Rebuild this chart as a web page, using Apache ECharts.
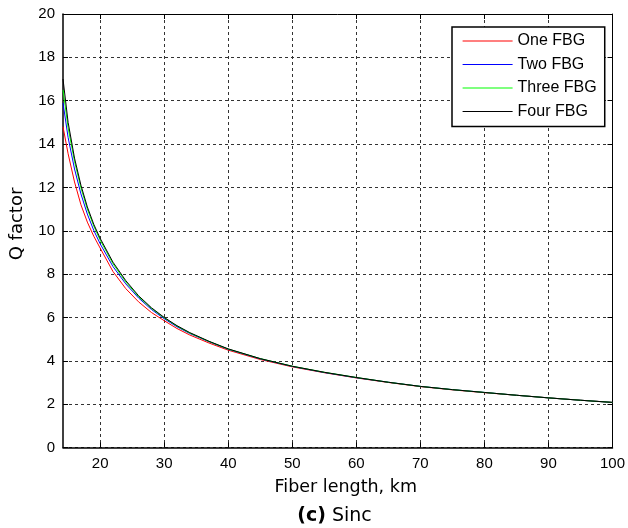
<!DOCTYPE html>
<html>
<head>
<meta charset="utf-8">
<script src="https://cdn.jsdelivr.net/npm/echarts@6/dist/echarts.min.js"></script>
<style>
  html, body { margin: 0; padding: 0; background: #fff; }
  #chart { width: 628px; height: 528px; }
</style>
</head>
<body>
<div id="chart"></div>
<script>
// fiber length, km
const lengths = [14.2, 15, 16, 17, 18, 19, 20, 22, 24, 26, 28, 30, 32, 34, 37, 40, 45, 50, 55, 60, 65, 70, 75, 80, 85, 90, 95, 100]
// Q factor per number of FBGs
const qOne = [14.8, 13.55, 12.25, 11.2, 10.4, 9.75, 9.2, 8.12, 7.33, 6.72, 6.23, 5.85, 5.49, 5.19, 4.82, 4.49, 4.06, 3.72, 3.45, 3.21, 3.0, 2.81, 2.66, 2.53, 2.41, 2.29, 2.18, 2.08]
const qTwo = [15.9, 14.3, 12.85, 11.7, 10.77, 10.02, 9.4, 8.35, 7.55, 6.9, 6.37, 5.94, 5.57, 5.26, 4.88, 4.53, 4.09, 3.74, 3.46, 3.22, 3.01, 2.82, 2.67, 2.54, 2.41, 2.29, 2.18, 2.08]
const qThree = [16.5, 14.75, 13.2, 11.98, 11.0, 10.22, 9.57, 8.48, 7.64, 6.96, 6.42, 5.98, 5.6, 5.28, 4.89, 4.54, 4.1, 3.75, 3.47, 3.23, 3.01, 2.82, 2.67, 2.54, 2.41, 2.29, 2.18, 2.08]
const qFour = [17.0, 15.0, 13.35, 12.1, 11.1, 10.3, 9.65, 8.55, 7.7, 7.0, 6.45, 6.0, 5.62, 5.3, 4.9, 4.55, 4.1, 3.75, 3.47, 3.23, 3.01, 2.82, 2.67, 2.54, 2.41, 2.29, 2.18, 2.08]

const seriesNames = ['One FBG', 'Two FBG', 'Three FBG', 'Four FBG']
const seriesColors = ['#ff0000', '#0000ff', '#00ff00', '#000000']
const xTicks = [20, 30, 40, 50, 60, 70, 80, 90, 100]

const xMin = 14.2
const xMax = 100

const chart = echarts.init(document.getElementById('chart'))

const pairs = ys => lengths.map((x, i) => [x, ys[i]])
const allData = [qOne, qTwo, qThree, qFour]

const series = allData.map((ys, i) => ({
  name: seriesNames[i],
  type: 'line',
  xAxisIndex: 0,
  yAxisIndex: 0,
  data: pairs(ys),
  symbol: 'none',
  smooth: false,
  lineStyle: { color: seriesColors[i], width: 1 },
  itemStyle: { color: seriesColors[i] },
  animation: false
}))

const labelFont = { fontFamily: 'Liberation Sans', fontSize: 15, color: '#000' }

const option = {
  animation: false,
  backgroundColor: '#fff',
  grid: { left: 63, top: 14, right: 14.5, bottom: 80.5, show: false },
  legend: {
    orient: 'vertical',
    left: 452,
    top: 27,
    padding: [6, 8, 7, 10],
    itemWidth: 50,
    itemHeight: 14,
    itemGap: 7.5,
    backgroundColor: '#fff',
    borderColor: '#000',
    borderWidth: 1.5,
    borderRadius: 0,
    itemStyle: { opacity: 0 },
    lineStyle: { width: 1.2 },
    textStyle: { fontFamily: 'Liberation Sans', fontSize: 16, color: '#000' },
    data: seriesNames
  },
  xAxis: [
    {
      type: 'value',
      min: xMin,
      max: xMax,
      position: 'bottom',
      name: 'Fiber length, km',
      nameLocation: 'middle',
      nameGap: 31,
      nameTextStyle: { fontFamily: 'DejaVu Sans', fontSize: 17.5, color: '#000', padding: [0, 0, 0, 16] },
      axisLine: { show: true, onZero: false, lineStyle: { color: '#000', width: 1.5 } },
      axisTick: { show: true, inside: true, length: 5, customValues: xTicks, lineStyle: { color: '#000' } },
      axisLabel: Object.assign({ margin: 9, customValues: xTicks }, labelFont),
      splitLine: { show: true, lineStyle: { color: '#333', width: 1, type: [3, 3] } }
    },
    {
      type: 'value',
      min: xMin,
      max: xMax,
      position: 'top',
      axisLine: { show: true, onZero: false, lineStyle: { color: '#000', width: 1 } },
      axisTick: { show: true, inside: true, length: 5, customValues: xTicks, lineStyle: { color: '#000' } },
      axisLabel: { show: false },
      splitLine: { show: false }
    }
  ],
  yAxis: [
    {
      type: 'value',
      min: 0,
      max: 20,
      interval: 2,
      position: 'left',
      axisLine: { show: true, onZero: false, lineStyle: { color: '#000', width: 1.5 } },
      axisTick: { show: true, inside: true, length: 5, lineStyle: { color: '#000' } },
      axisLabel: Object.assign({ margin: 8 }, labelFont),
      splitLine: { show: true, lineStyle: { color: '#333', width: 1, type: [3, 3] } }
    },
    {
      type: 'value',
      min: 0,
      max: 20,
      interval: 2,
      position: 'right',
      axisLine: { show: true, onZero: false, lineStyle: { color: '#000', width: 1 } },
      axisTick: { show: true, inside: true, length: 5, lineStyle: { color: '#000' } },
      axisLabel: { show: false },
      splitLine: { show: false }
    }
  ],
  graphic: [
    {
      type: 'text',
      x: 17.5,
      y: 224,
      rotation: Math.PI / 2,
      style: {
        text: 'Q factor',
        fontFamily: 'DejaVu Sans',
        fontSize: 18,
        fill: '#000',
        align: 'center',
        verticalAlign: 'middle'
      }
    },
    {
      type: 'text',
      x: 334.5,
      y: 516,
      style: {
        text: '{b|(c)} Sinc',
        fontFamily: 'DejaVu Sans',
        fontSize: 19,
        fill: '#000',
        align: 'center',
        verticalAlign: 'middle',
        rich: {
          b: { fontFamily: 'DejaVu Sans', fontSize: 19, fontWeight: 'bold', fill: '#000' }
        }
      }
    }
  ],
  series: series
}

chart.setOption(option)
</script>
</body>
</html>
